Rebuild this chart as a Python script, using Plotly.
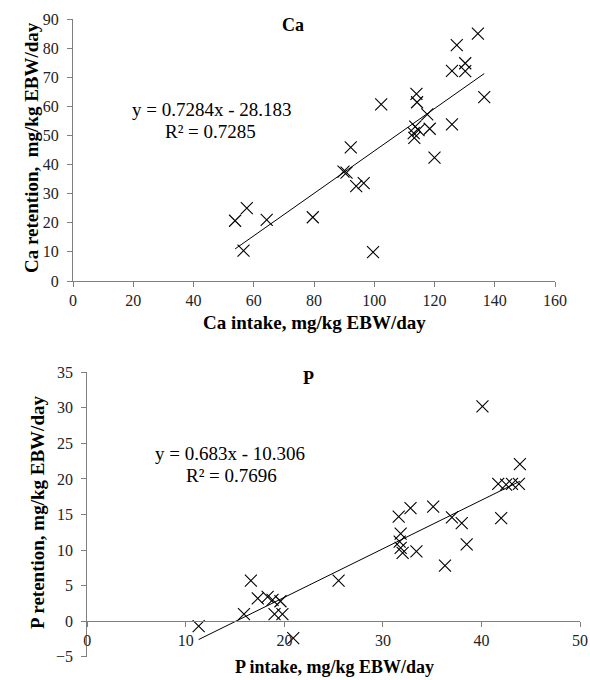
import plotly.graph_objects as go

# ---- data ----
ca_intake = [53.8, 57.7, 56.6, 64.3, 79.6, 99.6, 89.8, 90.8, 92.2, 94.0, 96.5, 102.3,
             114.0, 114.2, 117.6, 113.6, 114.7, 118.4, 113.1, 113.3, 120.0, 125.8,
             125.8, 127.4, 130.2, 130.2, 134.4, 136.5]
ca_retention = [20.7, 25.0, 10.4, 21.0, 21.9, 9.9, 37.6, 37.2, 45.9, 32.6, 33.6, 60.7,
                64.3, 61.4, 57.2, 53.0, 51.8, 52.3, 50.8, 49.2, 42.4, 53.8,
                72.2, 81.0, 74.8, 72.1, 85.0, 63.2]
p_intake = [11.3, 16.6, 15.9, 17.3, 18.3, 18.8, 19.6, 19.0, 19.8, 20.9, 25.5, 31.6,
            31.8, 31.7, 31.8, 32.0, 32.8, 33.4, 35.1, 36.3, 37.0, 38.0, 38.5, 40.1,
            41.7, 42.5, 42.0, 43.1, 43.8, 43.9]
p_retention = [-0.7, 5.7, 1.0, 3.2, 3.4, 3.0, 2.8, 1.0, 1.0, -2.4, 5.7, 14.7,
               12.3, 11.2, 10.3, 9.6, 15.9, 9.8, 16.1, 7.8, 14.6, 13.8, 10.8, 30.2,
               19.3, 19.2, 14.5, 19.3, 19.3, 22.1]
ca_slope, ca_intercept, ca_r2 = 0.7284, -28.183, 0.7285
p_slope, p_intercept, p_r2 = 0.683, -10.306, 0.7696
ca_xticks = [0, 20, 40, 60, 80, 100, 120, 140, 160]
ca_yticks = [0, 10, 20, 30, 40, 50, 60, 70, 80, 90]
p_xticks = [0, 10, 20, 30, 40, 50]
p_yticks = [-5, 0, 5, 10, 15, 20, 25, 30, 35]

W, H = 590, 680
FONT = "Liberation Serif"
AX = "#7f7f7f"

def px(x):
    return x / W

def py(y):
    return 1 - y / H

marker = dict(symbol="x-thin-open", size=12, color="black", line=dict(color="black", width=1.1))

fig = go.Figure()
fig.add_trace(go.Scatter(x=ca_intake, y=ca_retention, mode="markers", marker=marker,
                         xaxis="x", yaxis="y", showlegend=False))
cx = [min(ca_intake), max(ca_intake)]
fig.add_trace(go.Scatter(x=cx, y=[ca_slope * v + ca_intercept for v in cx], mode="lines",
                         line=dict(color="black", width=1), xaxis="x", yaxis="y", showlegend=False))
fig.add_trace(go.Scatter(x=p_intake, y=p_retention, mode="markers", marker=marker,
                         xaxis="x2", yaxis="y2", showlegend=False))
pxr = [min(p_intake), max(p_intake)]
fig.add_trace(go.Scatter(x=pxr, y=[p_slope * v + p_intercept for v in pxr], mode="lines",
                         line=dict(color="black", width=1), xaxis="x2", yaxis="y2", showlegend=False))

tickfont = dict(family=FONT, size=16, color="#222")
axis_common = dict(showgrid=False, zeroline=False, showline=True, linecolor=AX, linewidth=1,
                   ticks="outside", tickcolor=AX, tickwidth=1, ticklabeloverflow="allow",
                   tickfont=tickfont, automargin=False)

fig.update_layout(
    xaxis=dict(domain=[px(73), px(555)], range=[0, 160], tickvals=ca_xticks, anchor="y",
               ticklen=5, **axis_common),
    yaxis=dict(domain=[py(281), py(19)], range=[0, 90], tickvals=ca_yticks, anchor="x",
               ticklen=5, ticklabelstandoff=5, **axis_common),
    xaxis2=dict(domain=[px(87.3), px(580)], range=[0, 50], tickvals=p_xticks, anchor="free",
                position=py(621), ticklen=5, **axis_common),
    yaxis2=dict(domain=[py(656.7), py(372.3)], range=[-5, 35], tickvals=p_yticks, anchor="x2",
                ticklen=5, ticklabelstandoff=5, **axis_common),
)

ann = []
def A(text, x, y, size, bold=False, angle=0):
    t = f"<b>{text}</b>" if bold else text
    ann.append(dict(text=t, x=px(x), y=py(y), xref="paper", yref="paper", showarrow=False,
                    xanchor="center", yanchor="middle", textangle=angle,
                    font=dict(family=FONT, size=size, color="black")))

A("Ca", 293, 25, 18, bold=True)
A("Ca retention,\u00a0 mg/kg EBW/day", 31, 148, 19, bold=True, angle=-90)
A("Ca intake, mg/kg EBW/day", 314, 322, 19, bold=True)
A(f"y = {ca_slope}x - {abs(ca_intercept)}", 212, 110, 19)
A(f"R² = {ca_r2}", 210, 131, 19)

A("P", 308, 378, 18, bold=True)
A("P retention, mg/kg EBW/day", 37, 513, 19, bold=True, angle=-90)
A("P intake, mg/kg EBW/day", 334, 667, 18, bold=True)
A(f"y = {p_slope}x - {abs(p_intercept)}", 230, 453, 19)
A(f"R² = {p_r2}", 231, 475, 19)

fig.update_layout(width=W, height=H, margin=dict(l=0, r=0, t=0, b=0),
                  paper_bgcolor="white", plot_bgcolor="white", annotations=ann,
                  font=dict(family=FONT))
fig.write_html("out.html", config={"displayModeBar": False},
               post_script="document.body.style.margin='0';document.body.style.overflow='hidden';")
